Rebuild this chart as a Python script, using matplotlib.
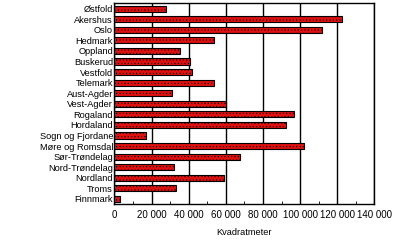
import numpy as np
import matplotlib.pyplot as plt
from matplotlib.ticker import MultipleLocator, FuncFormatter

fylker = ["Østfold", "Akershus", "Oslo", "Hedmark", "Oppland", "Buskerud",
          "Vestfold", "Telemark", "Aust-Agder", "Vest-Agder", "Rogaland",
          "Hordaland", "Sogn og Fjordane", "Møre og Romsdal", "Sør-Trøndelag",
          "Nord-Trøndelag", "Nordland", "Troms", "Finnmark"]
kvadratmeter = [27600, 122500, 111700, 53500, 35100, 40900,
                41600, 53500, 30800, 60100, 96600,
                92300, 16800, 102000, 67500,
                32200, 58900, 33300, 3100]

plt.rcParams['font.family'] = ['Liberation Sans', 'DejaVu Sans']
plt.rcParams['hatch.color'] = '#7a0000'
plt.rcParams['hatch.linewidth'] = 0.4

fig = plt.figure(figsize=(4.0, 2.44), dpi=100)
ax = fig.add_axes([0.286, 0.163, 0.65, 0.823])

y = np.arange(len(fylker))
ax.barh(y, kvadratmeter, height=0.58, color='#e01010', edgecolor='black',
        linewidth=0.8, hatch='.....', zorder=3)

ax.set_xlim(0, 140000)
ax.set_ylim(len(fylker) - 0.5, -0.5)
ax.set_yticks(y)
ax.set_yticklabels(fylker, fontsize=6.7)
ax.tick_params(axis='y', length=0, pad=1)

ax.xaxis.set_major_locator(MultipleLocator(20000))
ax.xaxis.set_minor_locator(MultipleLocator(10000))
ax.xaxis.set_major_formatter(FuncFormatter(lambda v, p: f"{int(v):,}".replace(",", " ")))
ax.tick_params(axis='x', which='major', labelsize=7, length=0, pad=4)
ax.tick_params(axis='x', which='minor', length=2, direction='in')
ax.grid(axis='x', which='major', color='black', linewidth=1.0, zorder=0)
for s in ax.spines.values():
    s.set_linewidth(1.0)

ax.set_xlabel("Kvadratmeter", fontsize=6.7, labelpad=6)

fig.savefig("out.png", dpi=100)
